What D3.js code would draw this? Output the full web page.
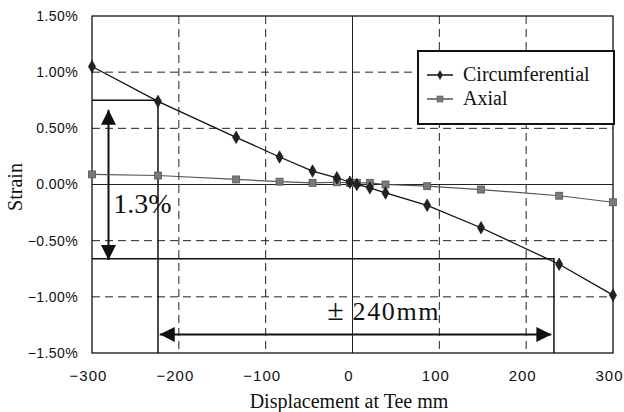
<!DOCTYPE html>
<html>
<head>
<meta charset="utf-8">
<script src="https://cdn.jsdelivr.net/npm/d3@7"></script>
<style>
  body { margin: 0; background: #fff; }
</style>
</head>
<body>
<div id="chart"></div>
<script>
// displacement (mm) at each measuring step
var displacement = [-300, -224, -134, -84, -46, -18, -3, 5, 20, 38, 86, 148, 238, 300];
// strain in %
var circumferential = [1.05, 0.74, 0.42, 0.245, 0.12, 0.06, 0.02, 0.0, -0.03, -0.075, -0.185, -0.385, -0.71, -0.985];
var axial = [0.09, 0.08, 0.045, 0.025, 0.015, 0.02, 0.015, 0.015, 0.015, 0.0, -0.015, -0.045, -0.1, -0.158];

var xTicks = [-300, -200, -100, 0, 100, 200, 300];
var yTicks = [-1.5, -1.0, -0.5, 0, 0.5, 1.0, 1.5];

// annotation levels
var strainHi = 0.75, strainLo = -0.66;
var dispLeft = -224, dispRight = 232;

var SERIF = "'Liberation Serif', 'Times New Roman', serif";
var SANS = "'Liberation Sans', Arial, sans-serif";

var margin = {top: 16, right: 11, bottom: 59, left: 92},
    fullWidth = 624,
    fullHeight = 412,
    width  = fullWidth - margin.left - margin.right,
    height = fullHeight - margin.top - margin.bottom;

var xScale = d3.scaleLinear().domain([-300, 300]).range([0, width]);
var yScale = d3.scaleLinear().domain([-1.5, 1.5]).range([height, 0]);

var svgRoot = d3.select("#chart").append("svg")
  .attr("width", fullWidth)
  .attr("height", fullHeight);

var defs = svgRoot.append("defs");
defs.append("marker")
  .attr("id", "head")
  .attr("markerUnits", "userSpaceOnUse")
  .attr("viewBox", "0 0 15 15")
  .attr("refX", 15).attr("refY", 7.5)
  .attr("markerWidth", 15).attr("markerHeight", 15)
  .attr("orient", "auto-start-reverse")
  .append("path")
  .attr("d", "M0,0L15,7.5L0,15Z")
  .attr("fill", "#111");

var svg = svgRoot.append("g")
  .attr("transform", "translate(" + margin.left + "," + margin.top + ")");

// grid
svg.selectAll(".vgrid")
  .data(xTicks.filter(function(d) { return d !== -300 && d !== 300; }))
  .enter().append("line")
  .attr("x1", function(d) { return xScale(d); })
  .attr("x2", function(d) { return xScale(d); })
  .attr("y1", 0).attr("y2", height)
  .attr("stroke", "#222")
  .attr("stroke-width", 1)
  .attr("stroke-dasharray", function(d) { return d === 0 ? null : "8,5"; });

svg.selectAll(".hgrid")
  .data(yTicks.filter(function(d) { return Math.abs(d) !== 1.5; }))
  .enter().append("line")
  .attr("x1", 0).attr("x2", width)
  .attr("y1", function(d) { return yScale(d); })
  .attr("y2", function(d) { return yScale(d); })
  .attr("stroke", "#222")
  .attr("stroke-width", 1)
  .attr("stroke-dasharray", function(d) { return d === 0 ? null : "8,5"; });

// frame
svg.append("rect")
  .attr("width", width).attr("height", height)
  .attr("fill", "none")
  .attr("stroke", "#111")
  .attr("stroke-width", 1.3);

// axes (labels only)
svg.append("g")
  .attr("transform", "translate(0," + height + ")")
  .call(d3.axisBottom(xScale).tickValues(xTicks).tickSize(0).tickPadding(17)
    .tickFormat(d3.format("d")))
  .call(function(g) {
    g.select(".domain").remove();
    g.selectAll("text")
      .style("font-family", SANS).attr("fill", "#111")
      .attr("font-size", 15).attr("letter-spacing", 1).attr("dx", -4);
  });

svg.append("g")
  .call(d3.axisLeft(yScale).tickValues(yTicks).tickSize(0).tickPadding(14)
    .tickFormat(function(d) { return d3.format(".2f")(d) + "%"; }))
  .call(function(g) {
    g.select(".domain").remove();
    g.selectAll("text")
      .style("font-family", SANS).attr("fill", "#111")
      .attr("font-size", 14).attr("letter-spacing", 0.4);
  });

// annotation guide lines
var guide = svg.append("g").attr("stroke", "#111").attr("stroke-width", 1.5).attr("fill", "none");
guide.append("path").attr("d", d3.line()([
  [xScale(-300), yScale(strainHi)], [xScale(dispLeft), yScale(strainHi)], [xScale(dispLeft), yScale(-1.5)]
]));
guide.append("path").attr("d", d3.line()([
  [xScale(-300), yScale(strainLo)], [xScale(dispRight), yScale(strainLo)], [xScale(dispRight), yScale(-1.5)]
]));

// arrows
svg.append("line")
  .attr("x1", xScale(-281)).attr("x2", xScale(-281))
  .attr("y1", yScale(0.665)).attr("y2", yScale(-0.672))
  .attr("stroke", "#111").attr("stroke-width", 2)
  .attr("marker-start", "url(#head)").attr("marker-end", "url(#head)");

svg.append("line")
  .attr("x1", xScale(-222)).attr("x2", xScale(229))
  .attr("y1", yScale(-1.335)).attr("y2", yScale(-1.335))
  .attr("stroke", "#111").attr("stroke-width", 2)
  .attr("marker-start", "url(#head)").attr("marker-end", "url(#head)");

svg.append("text")
  .style("font-family", SERIF).attr("fill", "#111")
  .attr("x", xScale(-275.5)).attr("y", yScale(-0.254))
  .attr("font-size", 28)
  .text("1.3%");

svg.append("text")
  .style("font-family", SERIF).attr("fill", "#111")
  .attr("x", xScale(-29)).attr("y", yScale(-1.206))
  .attr("font-size", 30)
  .text("±");
svg.append("text")
  .style("font-family", SERIF).attr("fill", "#111")
  .attr("x", xScale(0)).attr("y", yScale(-1.206))
  .attr("font-size", 26)
  .attr("textLength", 86)
  .text("240mm");

// series
var axialData = displacement.map(function(d, i) { return {x: d, y: axial[i]}; });
var circData = displacement.map(function(d, i) { return {x: d, y: circumferential[i]}; });

var line = d3.line()
  .x(function(d) { return xScale(d.x); })
  .y(function(d) { return yScale(d.y); });

svg.append("path")
  .datum(axialData)
  .attr("d", line)
  .attr("fill", "none")
  .attr("stroke", "#555")
  .attr("stroke-width", 1.2);

svg.selectAll(".sq")
  .data(axialData)
  .enter().append("rect")
  .attr("x", function(d) { return xScale(d.x) - 3.5; })
  .attr("y", function(d) { return yScale(d.y) - 3.5; })
  .attr("width", 7).attr("height", 7)
  .attr("fill", "#7a7a7a")
  .attr("stroke", "#555")
  .attr("stroke-width", 0.8);

svg.append("path")
  .datum(circData)
  .attr("d", line)
  .attr("fill", "none")
  .attr("stroke", "#111")
  .attr("stroke-width", 1.3);

var diamond = d3.symbol().type(d3.symbolDiamond).size(45);
svg.selectAll(".dm")
  .data(circData)
  .enter().append("path")
  .attr("d", diamond)
  .attr("transform", function(d) { return "translate(" + xScale(d.x) + "," + yScale(d.y) + ")"; })
  .attr("fill", "#222")
  .attr("stroke", "#111")
  .attr("stroke-width", 0.6);

// legend
var legend = svgRoot.append("g");
legend.append("rect")
  .attr("x", 418).attr("y", 51)
  .attr("width", 196).attr("height", 73)
  .attr("fill", "#fff")
  .attr("stroke", "#111")
  .attr("stroke-width", 2);

var legendItems = [
  {name: "Circumferential", y: 75, color: "#111", kind: "diamond"},
  {name: "Axial", y: 99, color: "#555", kind: "square"}
];
legendItems.forEach(function(it) {
  legend.append("line")
    .attr("x1", 427).attr("x2", 453)
    .attr("y1", it.y).attr("y2", it.y)
    .attr("stroke", it.color).attr("stroke-width", 1.5);
  if (it.kind === "diamond") {
    legend.append("path")
      .attr("d", d3.symbol().type(d3.symbolDiamond).size(28))
      .attr("transform", "translate(440," + it.y + ")")
      .attr("fill", "#222");
  } else {
    legend.append("rect")
      .attr("x", 437).attr("y", it.y - 3)
      .attr("width", 6).attr("height", 6)
      .attr("fill", "#7a7a7a").attr("stroke", "#555").attr("stroke-width", 0.6);
  }
  legend.append("text")
    .style("font-family", SERIF).attr("fill", "#111")
    .attr("x", 463).attr("y", it.y + 6)
    .attr("font-size", 20)
    .text(it.name);
});

// axis titles
svgRoot.append("text")
  .style("font-family", SERIF).attr("fill", "#111")
  .attr("transform", "translate(22,187) rotate(-90)")
  .attr("text-anchor", "middle")
  .attr("font-size", 20)
  .text("Strain");

svgRoot.append("text")
  .style("font-family", SERIF).attr("fill", "#111")
  .attr("x", 349).attr("y", 408)
  .attr("text-anchor", "middle")
  .attr("font-size", 20)
  .text("Displacement at Tee mm");
</script>
</body>
</html>
